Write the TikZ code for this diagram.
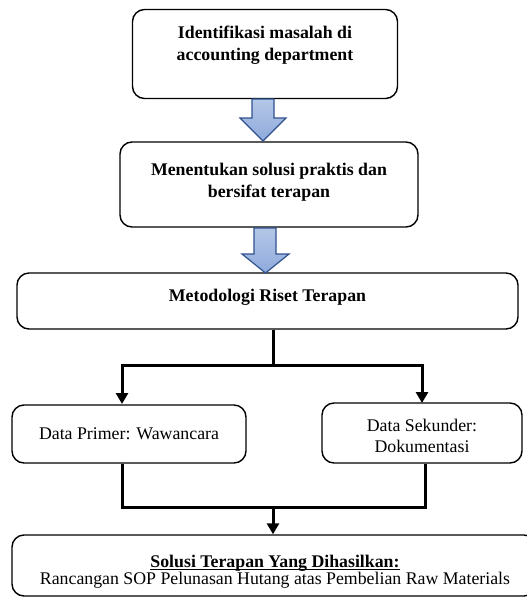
\documentclass[tikz,border=0pt]{standalone}
\usepackage{fontspec}
\setmainfont{Liberation Serif}
\usetikzlibrary{calc,arrows.meta}
\definecolor{arrfill}{RGB}{143,170,220}
\definecolor{arrfilltop}{RGB}{180,199,231}
\definecolor{arredge}{RGB}{47,82,143}
\tikzset{
  box/.style={draw=black,line width=1.4pt,rounded corners=12pt,inner sep=0pt},
  txt/.style={align=center,inner sep=0pt,font=\fontsize{17.8}{21.5}\selectfont},
  btxt/.style={txt,font=\fontsize{17.8}{21.5}\selectfont\bfseries},
  conn/.style={line width=3pt,line join=miter},
  tip/.style={-{Triangle[width=12pt,length=11pt]}},
  blockarrow/.style={draw=arredge,line width=1.2pt,top color=arrfilltop,bottom color=arrfill}
}
\begin{document}
\begin{tikzpicture}[x=1pt,y=-1pt]
\clip (0,0) rectangle (527,598);
\fill[white] (0,0) rectangle (527,598);
% boxes
\node[box,minimum width=265pt,minimum height=89pt] (b1) at (265,54) {};
\node[btxt] (t1) at (265,45) {Identifikasi masalah di\\accounting department};
\node[box,minimum width=298pt,minimum height=85pt] (b2) at (269,184.5) {};
\node[btxt] (t2) at (269,182) {Menentukan solusi praktis dan\\bersifat terapan};
\node[box,minimum width=501pt,minimum height=56pt] (b3) at (267.5,301) {};
\node[btxt] (t3) at (267.5,297) {Metodologi Riset Terapan};
\node[box,minimum width=234pt,minimum height=58pt] (b4) at (129,434) {};
\node[txt] (t4) at (129,434) {Data Primer: Wawancara};
\node[box,minimum width=200pt,minimum height=60pt] (b5) at (422,433) {};
\node[txt] (t5) at (422,436) {Data Sekunder:\\Dokumentasi};
\node[box,minimum width=524pt,minimum height=61pt] (b6) at (274,565.5) {};
\node[txt,font=\fontsize{17.8}{17.5}\selectfont] (t6) at (275,578) {\textbf{\underline{\smash{Solusi Terapan Yang Dihasilkan:}}}\\Rancangan SOP Pelunasan Hutang atas Pembelian Raw Materials};
% block arrows
\path[blockarrow] (252,99) -- (274,99) -- (274,118) -- (286,118) -- (263,141) -- (240,118) -- (252,118) -- cycle;
\path[blockarrow] (254,228) -- (276,228) -- (276,254) -- (289,254) -- (265.5,273) -- (242,254) -- (254,254) -- cycle;
% connectors
\coordinate (j1) at (273,365);
\coordinate (a4) at (122,404);
\coordinate (a5) at (422,403);
\draw[conn] (b3.south -| j1) -- (j1);
\draw[conn,tip] (j1) -| (a4);
\draw[conn,tip] (j1) -| (a5);
\coordinate (j2) at (273,507);
\coordinate (l4) at (122,507);
\coordinate (l5) at (425,507);
\draw[conn] (b4.south -| l4) -- (l4) -- (l5) -- (b5.south -| l5);
\draw[conn,tip] (j2) -- (b6.north -| j2);
\end{tikzpicture}
\end{document}
